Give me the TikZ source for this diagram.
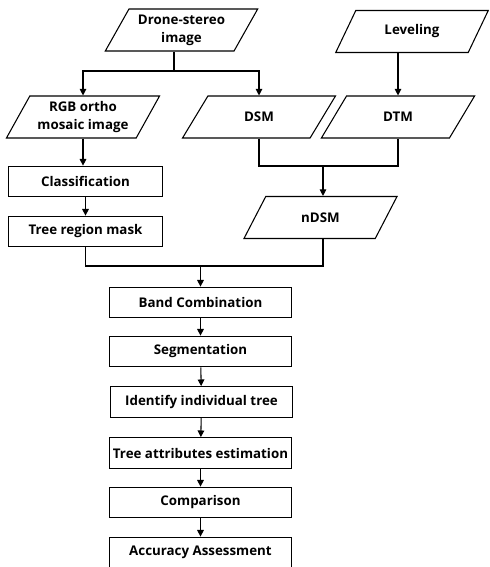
\documentclass[tikz,border=0pt]{standalone}
\usepackage{fontspec}
\setmainfont{Open Sans}
\usetikzlibrary{shapes.geometric, arrows.meta}

\begin{document}
\begin{tikzpicture}[x=0.75pt, y=-0.75pt,
    font=\bfseries\fontsize{10}{13.5}\selectfont,
    data/.style={draw, line width=0.8pt, trapezium, trapezium stretches=true,
      trapezium left angle=60, trapezium right angle=120,
      minimum width=115pt, minimum height=31.5pt, inner sep=2pt, align=center},
    proc/.style={draw, line width=0.8pt, rectangle, minimum height=23pt, inner sep=2pt},
    link/.style={line width=0.8pt},
    flow/.style={line width=0.8pt, -{Triangle[length=5pt, width=5pt]}}]
    \useasboundingbox (0, 0) rectangle (489, 567);

    % Inputs
    \path (181.5, 30) node [data] (drone) {Drone-stereo\\image};
    \path (412, 31.5) node [data] (level) {Leveling};

    % Derived products
    \path (83, 117) node [data] (rgb) {RGB ortho\\mosaic image};
    \path (259, 117) node [data] (dsm) {DSM};
    \path (398, 117) node [data] (dtm) {DTM};
    \path (320.5, 217.5) node [data] (ndsm) {nDSM};

    % Masking
    \path (85.5, 181.5) node [proc, minimum width=116pt] (class) {Classification};
    \path (85.5, 231.5) node [proc, minimum width=116pt] (mask) {Tree region mask};

    % Main chain
    \path (200.5, 302.5) node [proc, minimum width=137pt] (band) {Band Combination};
    \path (200.5, 351.5) node [proc, minimum width=137pt] (seg) {Segmentation};
    \path (201.5, 402) node [proc, minimum width=136pt] (ident) {Identify individual tree};
    \path (200.5, 453) node [proc, minimum width=137pt] (attr) {Tree attributes estimation};
    \path (200.5, 502.5) node [proc, minimum width=137pt] (comp) {Comparison};
    \path (200.5, 552.5) node [proc, minimum width=137pt] (acc) {Accuracy Assessment};

    % Connections
    \coordinate (split) at (174, 71);
    \coordinate (join) at (323, 166);
    \coordinate (merge) at (200.5, 266);
    \draw [link] (split |- drone.south) -- (split);
    \draw [flow] (split) -| (rgb.north);
    \draw [flow] (split) -| (dsm.north);
    \draw [flow] (dtm.north |- level.south) -- (dtm.north);
    \draw [link] (dsm.south) |- (join) -| (dtm.south);
    \draw [flow] (join) -- (join |- ndsm.north);
    \draw [flow] (rgb.south) -- (rgb.south |- class.north);
    \draw [flow] (class) -- (mask);
    \draw [link] (mask.south) |- (merge) -| (join |- ndsm.south);
    \draw [flow] (merge) -- (band);
    \draw [flow] (band) -- (seg);
    \draw [flow] (seg) -- (ident);
    \draw [flow] (ident) -- (attr);
    \draw [flow] (attr) -- (comp);
    \draw [flow] (comp) -- (acc);
\end{tikzpicture}
\end{document}
